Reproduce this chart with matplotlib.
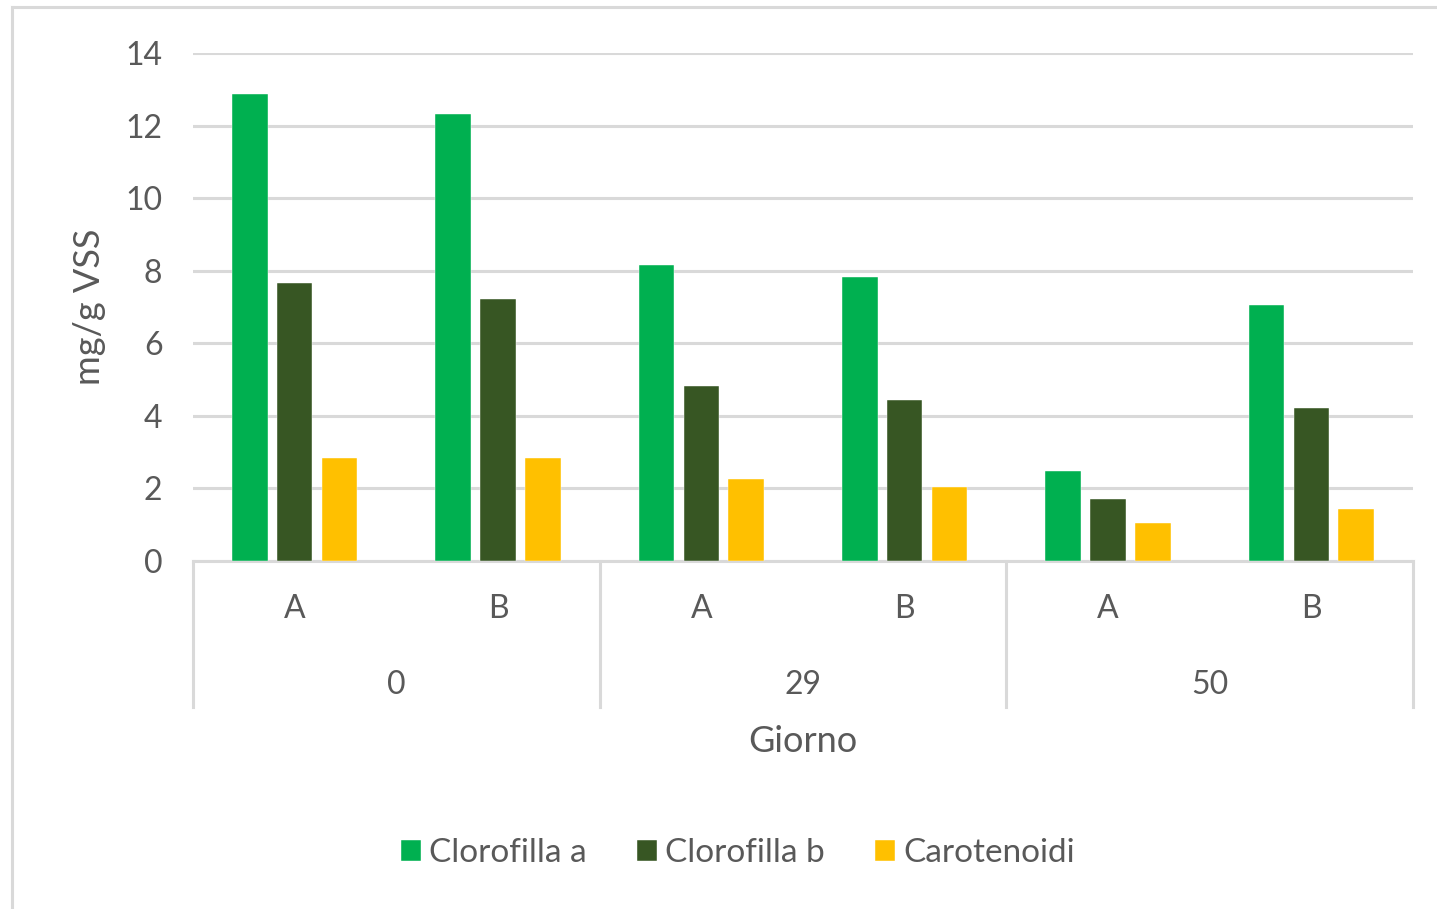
import matplotlib.pyplot as plt
from matplotlib.lines import Line2D
from matplotlib.transforms import blended_transform_factory
import numpy as np

plt.rcParams["font.family"] = ["Lato", "DejaVu Sans"]

# Pigment content per sample (mg/g VSS)
days = ["0", "29", "50"]
samples = ["A", "B", "A", "B", "A", "B"]
clorofilla_a = [12.88, 12.32, 8.16, 7.82, 2.48, 7.06]
clorofilla_b = [7.67, 7.22, 4.83, 4.44, 1.71, 4.23]
carotenoidi = [2.83, 2.83, 2.26, 2.04, 1.05, 1.44]

series = [
    ("Clorofilla a", clorofilla_a, "#00B050"),
    ("Clorofilla b", clorofilla_b, "#375623"),
    ("Carotenoidi", carotenoidi, "#FFC000"),
]

TEXT = "#595959"
GRID = "#D9D9D9"

W, H = 1437, 909
fig = plt.figure(figsize=(W / 100, H / 100), dpi=100)
ax = fig.add_axes([193 / W, (H - 561) / H, (1413 - 193) / W, (561 - 53) / H])

x = np.arange(len(samples)) + 0.5
width = 0.175
step = 0.22
for i, (name, vals, col) in enumerate(series):
    ax.bar(x + (i - 1) * step, vals, width, color=col, label=name,
           edgecolor="white", linewidth=0.3, zorder=3)

ax.set_xlim(0, len(samples))
ax.set_ylim(0, 14)
ax.set_yticks(range(0, 15, 2))
ax.yaxis.grid(True, color=GRID, linewidth=2.2, zorder=0)
ax.tick_params(axis="y", length=0, pad=22, labelsize=23, labelcolor=TEXT)
ax.tick_params(axis="x", length=0, pad=24, labelsize=23, labelcolor=TEXT)
ax.set_xticks(x)
ax.set_xticklabels(samples)
for s in ["top", "right", "left"]:
    ax.spines[s].set_visible(False)
ax.spines["bottom"].set_color(GRID)
ax.spines["bottom"].set_linewidth(2.2)

# Two-level category axis: day separators and day labels
trans = blended_transform_factory(ax.transData, ax.transAxes)
depth = -(707 - 561) / (561 - 53)
for xb in [0, 2, 4, 6]:
    ax.add_line(Line2D([xb, xb], [0, depth], transform=trans, color=GRID,
                       linewidth=2.2, clip_on=False))
for j, d in enumerate(days):
    ax.text(2 * j + 1, -(685 - 561) / (561 - 53), d, transform=trans,
            ha="center", va="center", fontsize=23, color=TEXT)

ax.text(3, -(742 - 561) / (561 - 53), "Giorno", transform=trans,
        ha="center", va="center", fontsize=26, color=TEXT)
fig.text(90 / W, 1 - 307 / H, "mg/g VSS", rotation=90, ha="center",
         va="center", fontsize=26, color=TEXT)

fig.legend(loc="center", bbox_to_anchor=(738 / W, 1 - 853 / H), ncol=3,
           frameon=False, fontsize=24, labelcolor=TEXT, handlelength=0.6,
           handleheight=0.6, handletextpad=0.25, columnspacing=1.5)

# chart frame edges
fig.add_artist(Line2D([12 / W, 12 / W], [0, 1 - 7 / H], color=GRID, linewidth=2.2))
fig.add_artist(Line2D([12 / W, 1], [1 - 7 / H, 1 - 7 / H], color=GRID, linewidth=2.2))

fig.savefig("out.png", dpi=100, facecolor="white")
